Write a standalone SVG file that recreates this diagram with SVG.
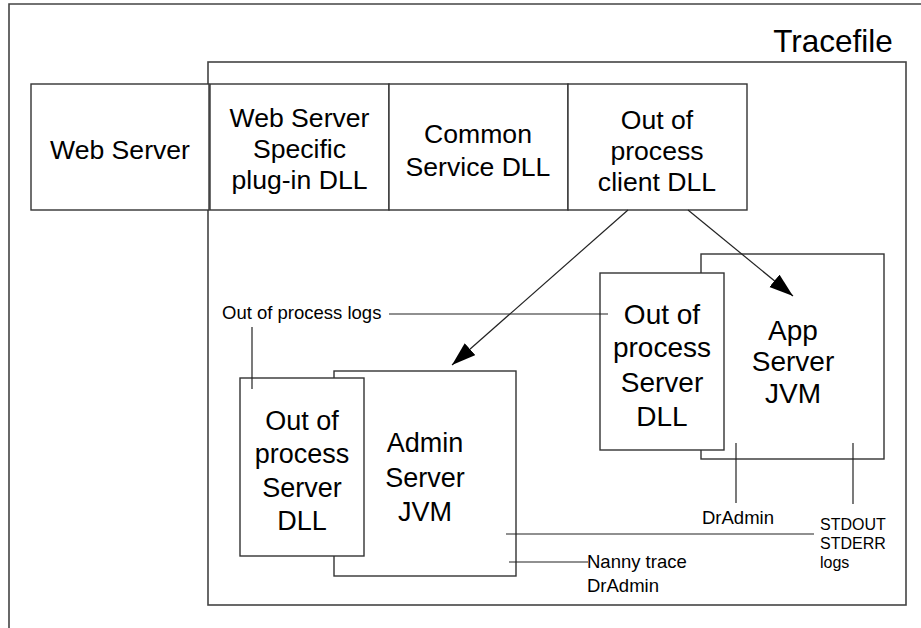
<svg xmlns="http://www.w3.org/2000/svg" width="921" height="628" viewBox="0 0 921 628">
<defs>
<style>
.box{fill:#fff;stroke:#333;stroke-width:1.4}
.frame{fill:none;stroke:#444;stroke-width:1.6}
.ln{fill:none;stroke:#222;stroke-width:1.2}
.t{font-family:"Liberation Sans",Arial,Helvetica,sans-serif;fill:#000;text-anchor:middle}
.t26{font-size:26.6px}
.t27{font-size:27px}
.t28{font-size:28px}
.s{font-family:"Liberation Sans",Arial,Helvetica,sans-serif;fill:#000;font-size:18.5px}
.s16{font-family:"Liberation Sans",Arial,Helvetica,sans-serif;fill:#000;font-size:16px}
</style>
<marker id="arr" markerUnits="userSpaceOnUse" markerWidth="26" markerHeight="18" refX="24" refY="8" orient="auto">
<path d="M0,0 L24,8 L0,16 z" fill="#000"/>
</marker>
</defs>
<rect width="921" height="628" fill="#fff"/>
<g id="outer-frame">
<path class="frame" d="M9,628 L9,4 L921,4"/>
</g>
<g id="tracefile">
<rect class="frame" x="208" y="62" width="698" height="543"/>
<text class="t" x="833" y="52" font-size="31.5">Tracefile</text>
</g>
<g id="web-server">
<rect class="box" x="31" y="84" width="178" height="126"/>
<text class="t t26" x="120" y="159">Web Server</text>
</g>
<g id="plugin-dll">
<rect class="box" x="210" y="84" width="179" height="126"/>
<text class="t t26" x="299.5" y="127">Web Server</text>
<text class="t t26" x="299.5" y="158">Specific</text>
<text class="t t26" x="299.5" y="189">plug-in DLL</text>
</g>
<g id="common-service-dll">
<rect class="box" x="389" y="84" width="179" height="126"/>
<text class="t t26" x="478" y="143">Common</text>
<text class="t t26" x="478" y="176">Service DLL</text>
</g>
<g id="client-dll">
<rect class="box" x="568" y="84" width="179" height="126"/>
<text class="t t26" x="657" y="129">Out of</text>
<text class="t t26" x="657" y="160">process</text>
<text class="t t26" x="657" y="191">client DLL</text>
</g>
<g id="app-server-jvm">
<rect class="box" x="701" y="254" width="183" height="205"/>
<text class="t t28" x="793" y="340">App</text>
<text class="t t28" x="793" y="371">Server</text>
<text class="t t28" x="793" y="403">JVM</text>
</g>
<g id="app-server-dll">
<rect class="box" x="600" y="273" width="124" height="177"/>
<text class="t t28" x="662" y="324">Out of</text>
<text class="t t28" x="662" y="357">process</text>
<text class="t t28" x="662" y="392">Server</text>
<text class="t t28" x="662" y="426">DLL</text>
</g>
<g id="admin-server-jvm">
<rect class="box" x="334" y="371" width="182" height="205"/>
<text class="t t27" x="425" y="452">Admin</text>
<text class="t t27" x="425" y="487">Server</text>
<text class="t t27" x="425" y="521">JVM</text>
</g>
<g id="admin-server-dll">
<rect class="box" x="240" y="378" width="124" height="178"/>
<text class="t t27" x="302" y="430">Out of</text>
<text class="t t27" x="302" y="463">process</text>
<text class="t t27" x="302" y="497">Server</text>
<text class="t t27" x="302" y="530">DLL</text>
</g>
<g id="labels">
<text class="s" x="222" y="319">Out of process logs</text>
<text class="s" x="702" y="524">DrAdmin</text>
<text class="s" x="587" y="568">Nanny trace</text>
<text class="s" x="587" y="592">DrAdmin</text>
<text class="s16" x="820" y="530">STDOUT</text>
<text class="s16" x="820" y="549">STDERR</text>
<text class="s16" x="820" y="568">logs</text>
</g>
<g id="connectors">
<line class="ln" x1="628" y1="210" x2="452" y2="365" marker-end="url(#arr)"/>
<line class="ln" x1="688" y1="210" x2="793" y2="296" marker-end="url(#arr)"/>
<line class="ln" x1="389" y1="314" x2="608" y2="314"/>
<line class="ln" x1="252" y1="327" x2="252" y2="389"/>
<line class="ln" x1="506" y1="534" x2="814" y2="534"/>
<line class="ln" x1="509" y1="562" x2="588" y2="562"/>
<line class="ln" x1="736" y1="443" x2="736" y2="503"/>
<line class="ln" x1="853" y1="443" x2="853" y2="504"/>
</g>
</svg>
